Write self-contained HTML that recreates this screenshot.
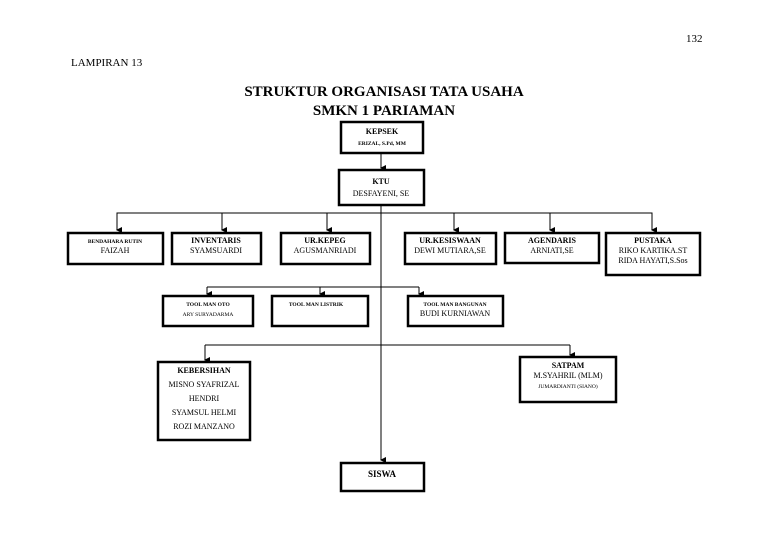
<!DOCTYPE html>
<html><head><meta charset="utf-8"><style>
html,body{margin:0;padding:0;background:#fff;}
svg{display:block;font-family:"Liberation Serif",serif;}
</style></head><body>
<svg width="768" height="543" viewBox="0 0 768 543" xmlns="http://www.w3.org/2000/svg">
<defs><marker id="a" markerWidth="6" markerHeight="6" refX="3" refY="5" orient="auto" markerUnits="userSpaceOnUse"><path d="M0,0 L6,0 L3,6 z" fill="#000"/></marker></defs>
<rect width="768" height="543" fill="#fff"/>
<text x="686" y="42" font-size="11">132</text>
<text x="71" y="66" font-size="11">LAMPIRAN 13</text>
<text x="384" y="96" font-size="15" font-weight="bold" text-anchor="middle">STRUKTUR ORGANISASI TATA USAHA</text>
<text x="384" y="115" font-size="15" font-weight="bold" text-anchor="middle">SMKN 1 PARIAMAN</text>
<g stroke="#000" fill="none">
<line x1="381" y1="153" x2="381" y2="168" stroke-width="1" marker-end="url(#a)"/>
<line x1="381" y1="205" x2="381" y2="460" stroke-width="1" marker-end="url(#a)"/>
<polyline points="117,230 117,213 652,213 652,230" stroke-width="1"/>
<line x1="222" y1="213" x2="222" y2="230" marker-end="url(#a)"/>
<line x1="327" y1="213" x2="327" y2="230" marker-end="url(#a)"/>
<line x1="454" y1="213" x2="454" y2="230" marker-end="url(#a)"/>
<line x1="550" y1="213" x2="550" y2="230" marker-end="url(#a)"/>
<line x1="117" y1="213" x2="117" y2="230" marker-end="url(#a)"/>
<line x1="652" y1="213" x2="652" y2="230" marker-end="url(#a)"/>
<line x1="207" y1="287" x2="419" y2="287"/>
<line x1="207" y1="287" x2="207" y2="294" marker-end="url(#a)"/>
<line x1="320" y1="287" x2="320" y2="294" marker-end="url(#a)"/>
<line x1="419" y1="287" x2="419" y2="294" marker-end="url(#a)"/>
<line x1="205" y1="345" x2="570" y2="345"/>
<line x1="205" y1="345" x2="205" y2="360" marker-end="url(#a)"/>
<line x1="570" y1="345" x2="570" y2="355" marker-end="url(#a)"/>
<g stroke-width="2.5">
<rect x="341" y="122" width="82" height="31"/>
<rect x="339" y="170" width="85" height="35"/>
<rect x="68" y="233" width="95" height="31"/>
<rect x="172" y="233" width="89" height="31"/>
<rect x="281" y="233" width="89" height="31"/>
<rect x="405" y="233" width="91" height="31"/>
<rect x="505" y="233" width="94" height="30"/>
<rect x="606" y="233" width="94" height="42"/>
<rect x="163" y="296" width="90" height="30"/>
<rect x="272" y="296" width="96" height="30"/>
<rect x="408" y="296" width="95" height="30"/>
<rect x="158" y="362" width="92" height="78"/>
<rect x="520" y="357" width="96" height="45"/>
<rect x="341" y="463" width="83" height="28"/>
</g>
</g>
<g text-anchor="middle" fill="#000">
<text x="382" y="134" font-size="8" font-weight="bold">KEPSEK</text>
<text x="382" y="145" font-size="5.5" font-weight="bold">ERIZAL, S.Pd, MM</text>
<text x="381" y="184" font-size="8" font-weight="bold">KTU</text>
<text x="381" y="196" font-size="8">DESFAYENI, SE</text>
<text x="115" y="243" font-size="5.5" font-weight="bold">BENDAHARA RUTIN</text>
<text x="115" y="253" font-size="8">FAIZAH</text>
<text x="216" y="243" font-size="8" font-weight="bold">INVENTARIS</text>
<text x="216" y="253" font-size="8">SYAMSUARDI</text>
<text x="325" y="243" font-size="8" font-weight="bold">UR.KEPEG</text>
<text x="325" y="253" font-size="8">AGUSMANRIADI</text>
<text x="450" y="243" font-size="8" font-weight="bold">UR.KESISWAAN</text>
<text x="450" y="253" font-size="8">DEWI MUTIARA,SE</text>
<text x="552" y="243" font-size="8" font-weight="bold">AGENDARIS</text>
<text x="552" y="253" font-size="8">ARNIATI,SE</text>
<text x="653" y="243" font-size="8" font-weight="bold">PUSTAKA</text>
<text x="653" y="253" font-size="8">RIKO KARTIKA.ST</text>
<text x="653" y="263" font-size="8">RIDA HAYATI,S.Sos</text>
<text x="208" y="306" font-size="5.5" font-weight="bold">TOOL MAN OTO</text>
<text x="208" y="316" font-size="5.5">ARY SURYADARMA</text>
<text x="316" y="306" font-size="5.5" font-weight="bold">TOOL MAN LISTRIK</text>
<text x="455" y="306" font-size="5.5" font-weight="bold">TOOL MAN BANGUNAN</text>
<text x="455" y="316" font-size="8">BUDI KURNIAWAN</text>
<text x="204" y="373" font-size="8" font-weight="bold">KEBERSIHAN</text>
<text x="204" y="387" font-size="8">MISNO SYAFRIZAL</text>
<text x="204" y="401" font-size="8">HENDRI</text>
<text x="204" y="415" font-size="8">SYAMSUL HELMI</text>
<text x="204" y="429" font-size="8">ROZI MANZANO</text>
<text x="568" y="368" font-size="8" font-weight="bold">SATPAM</text>
<text x="568" y="378" font-size="8">M.SYAHRIL (MLM)</text>
<text x="568" y="388" font-size="5.5">JUMARDIANTI (SIANO)</text>
<text x="382" y="477" font-size="9" font-weight="bold">SISWA</text>
</g>
</svg>
</body></html>
